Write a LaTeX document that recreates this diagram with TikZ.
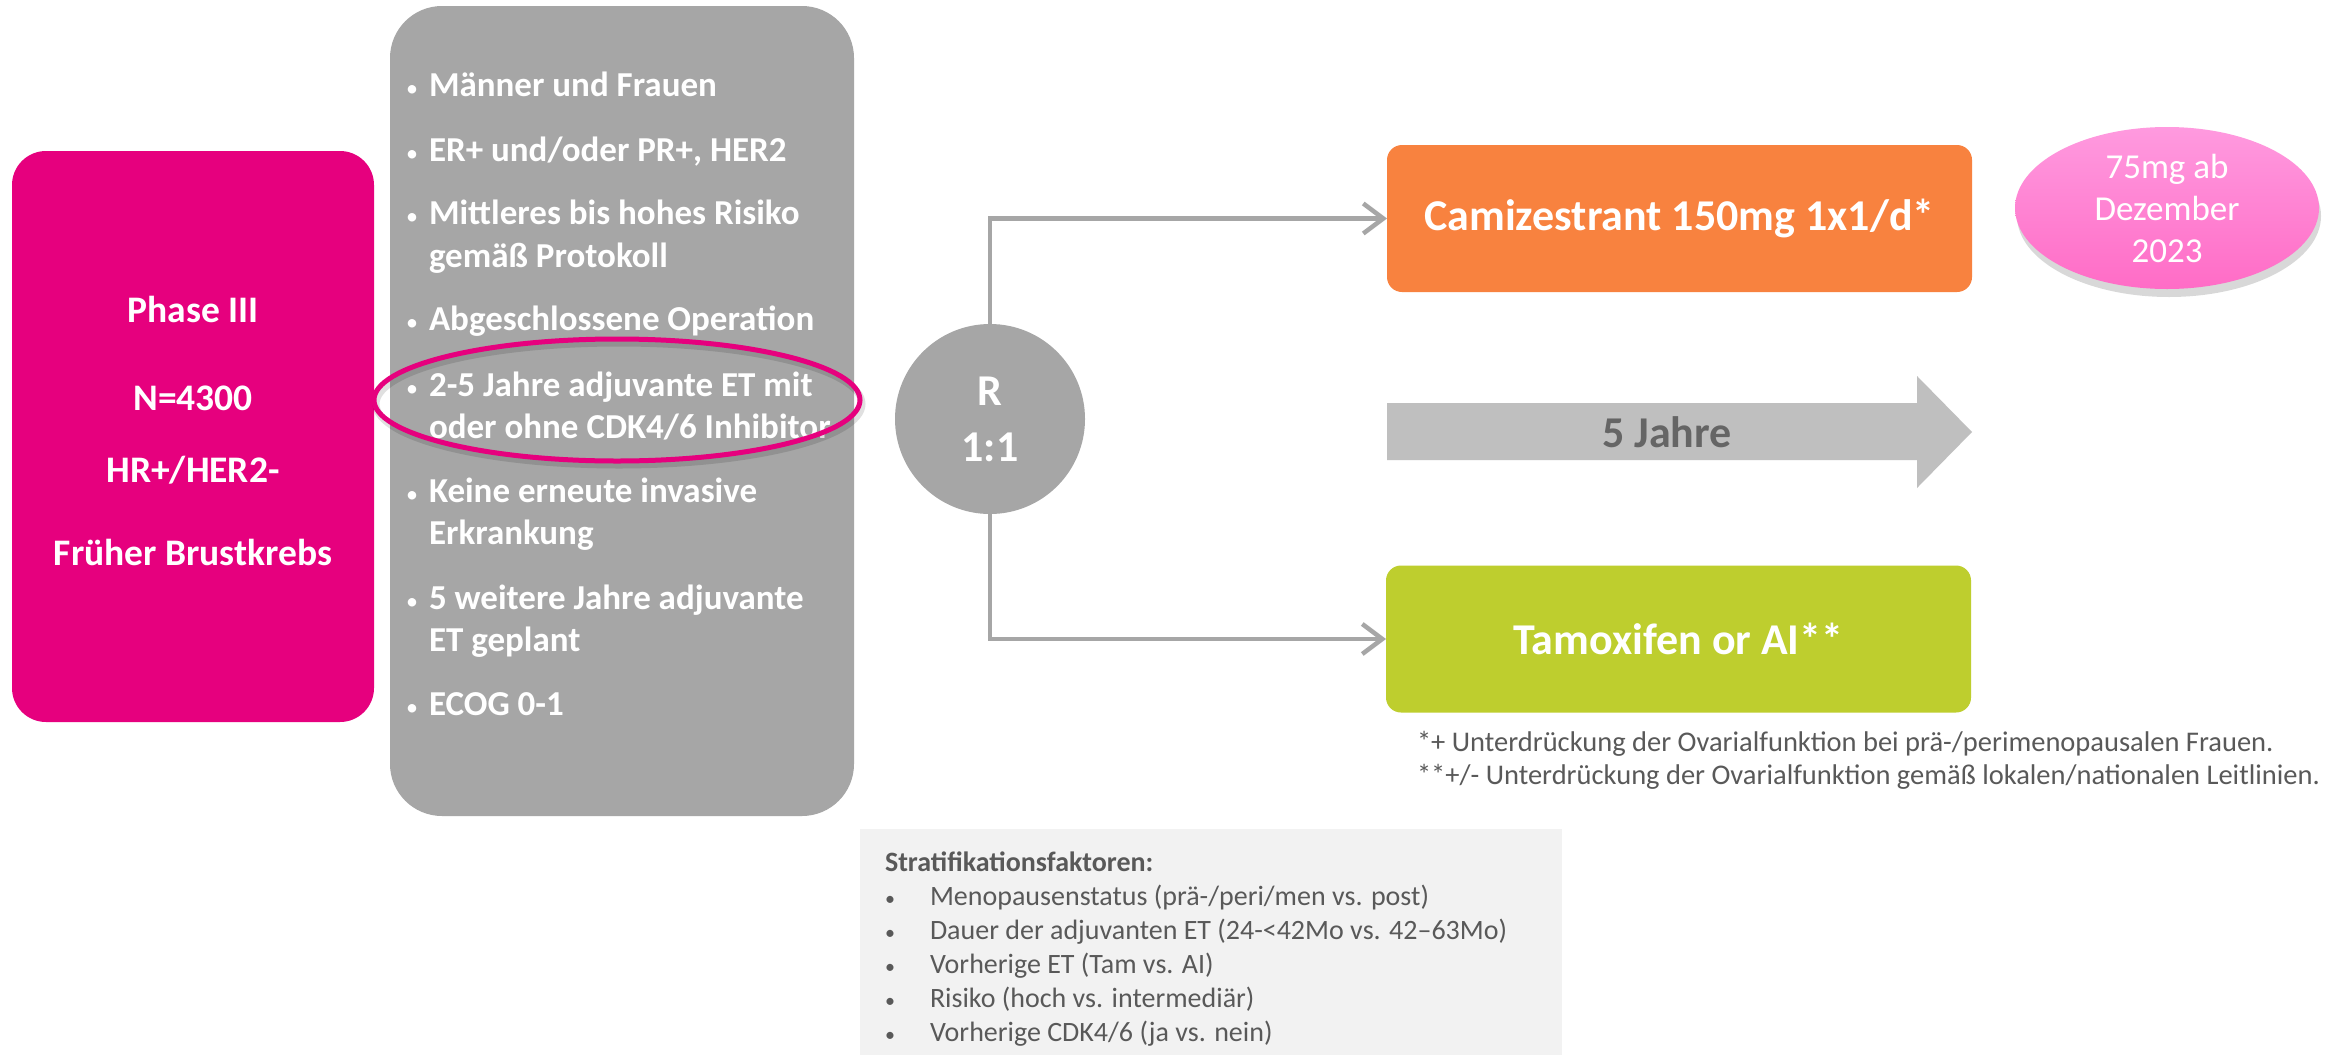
\documentclass[tikz,border=0pt]{standalone}
\usepackage{fontspec}
\setmainfont{Carlito}
\usetikzlibrary{shapes.geometric,arrows.meta,shadows}

\definecolor{phasepink}{HTML}{E6007E}
\definecolor{critgray}{HTML}{A6A6A6}
\definecolor{camiorange}{HTML}{F8823F}
\definecolor{tamgreen}{HTML}{BECE2E}
\definecolor{durgray}{HTML}{BFBFBF}
\definecolor{durtext}{HTML}{656565}
\definecolor{notetop}{HTML}{FF9ADF}
\definecolor{notebottom}{HTML}{FF6CC6}
\definecolor{foottext}{HTML}{595959}
\definecolor{stratbg}{HTML}{F2F2F2}

\begin{document}
\begin{tikzpicture}[x=1pt,y=-1pt,
  every node/.style={inner sep=0pt,outer sep=0pt},
  critline/.style={anchor=base west,text=white,font=\fontsize{35}{42}\selectfont\bfseries},
  critdot/.style={anchor=base,text=white,font=\fontsize{24}{28}\selectfont},
  phaseline/.style={anchor=base,text=white,font=\fontsize{37.5}{45}\selectfont\bfseries},
  armbox/.style={rounded corners=15pt,minimum width=585pt,minimum height=147pt,
    text=white,font=\fontsize{44}{52}\selectfont\bfseries},
  connector/.style={draw=critgray,line width=4.5pt,
    -{Straight Barb[length=20pt,width=30pt,line width=4.5pt]}},
  footline/.style={anchor=base west,text=foottext,font=\fontsize{28.5}{34}\selectfont},
  stratline/.style={anchor=base west,text=foottext,font=\fontsize{28}{34}\selectfont},
  stratdot/.style={anchor=base,text=foottext,font=\fontsize{20}{24}\selectfont},
]
\useasboundingbox[fill=white] (0,0) rectangle (2336,1055);

% study population
\node[fill=phasepink,rounded corners=34pt,minimum width=362pt,minimum height=571pt] (phase) at (193,436.5) {};
\node[phaseline] (phase1) at (193,322) {Phase III};
\node[phaseline] (phase2) at (193,410) {N=4300};
\node[phaseline] (phase3) at (193,482) {HR+/HER2-};
\node[phaseline] (phase4) at (193,565) {Früher Brustkrebs};

% inclusion criteria
\node[fill=critgray,rounded corners=52pt,minimum width=464pt,minimum height=810pt] (crit) at (622,411) {};
\foreach \y/\n in {96/1,161/2,224/3,330/4,396/5,502/6,609/7,715/8}
  \node[critdot] (dot\n) at (412,\y) {•};
\node[critline] (c1)  at (429,96)  {Männer und Frauen};
\node[critline] (c2)  at (429,161) {ER+ und/oder PR+, HER2};
\node[critline] (c3)  at (429,224) {Mittleres bis hohes Risiko};
\node[critline] (c3b) at (429,267) {gemäß Protokoll};
\node[critline] (c4)  at (429,330) {Abgeschlossene Operation};
\node[critline] (c5)  at (429,396) {2-5 Jahre adjuvante ET mit};
\begin{scope}
  \clip (400,405) rectangle (833,460);
  \node[critline] (c5b) at (429,438) {oder ohne CDK4/6 Inhibitor};
\end{scope}
\node[critline] (c6)  at (429,502) {Keine erneute invasive};
\node[critline] (c6b) at (429,544) {Erkrankung};
\node[critline] (c7)  at (429,609) {5 weitere Jahre adjuvante};
\node[critline] (c7b) at (429,651) {ET geplant};
\node[critline] (c8)  at (429,715) {ECOG 0-1};

% highlight ring
\draw[black,opacity=0.12,line width=7pt] (619,404) ellipse [x radius=243pt,y radius=61pt];
\draw[phasepink,line width=5pt] (617,400) ellipse [x radius=243pt,y radius=61pt];

% randomisation
\node[circle,fill=critgray,minimum size=190pt,align=center,text=white,
  font=\fontsize{44}{56}\selectfont\bfseries] (rand) at (990,419) {R\\1:1};

% treatment arms
\node[armbox,fill=camiorange] (camiz) at (1679.5,218.5) {Camizestrant 150mg 1x1/d*};
\node[armbox,fill=tamgreen] (tamox) at (1678.5,639) {Tamoxifen or AI**};
\draw[connector] (rand.north) |- (camiz.west);
\draw[connector] (rand.south) |- (tamox.west);

% duration arrow
\fill[durgray] (1387,403) -- (1917,403) -- (1917,376) -- (1972,432)
  -- (1917,488) -- (1917,460) -- (1387,460) -- cycle;
\node[text=durtext,font=\fontsize{44}{52}\selectfont\bfseries] (dur) at (1667,432) {5 Jahre};

% dose note
\node[ellipse,minimum width=304pt,minimum height=162pt,top color=notetop,bottom color=notebottom,
  drop shadow={shadow xshift=2pt,shadow yshift=-8pt,opacity=0.3},
  align=center,text=white,font=\fontsize{35}{42}\selectfont] (note) at (2167,208)
  {75mg ab\\Dezember\\2023};

% footnotes
\node[footline] (foot1) at (1417,751) {*+ Unterdrückung der Ovarialfunktion bei prä-/perimenopausalen Frauen.};
\node[footline] (foot2) at (1417,784) {**+/- Unterdrückung der Ovarialfunktion gemäß lokalen/nationalen Leitlinien.};

% stratification factors
\node[fill=stratbg,anchor=north west,minimum width=702pt,minimum height=226pt] (strat) at (860,829) {};
\node[stratline,font=\fontsize{28}{34}\selectfont\bfseries] (s0) at (885,871) {Stratifikationsfaktoren:};
\foreach \y/\n in {905/1,939/2,973/3,1007/4,1041/5}
  \node[stratdot] (sdot\n) at (890,\y) {•};
\node[stratline] (s1) at (930,905)  {Menopausenstatus (prä-/peri/men vs. post)};
\node[stratline] (s2) at (930,939)  {Dauer der adjuvanten ET (24-<42Mo vs. 42–63Mo)};
\node[stratline] (s3) at (930,973)  {Vorherige ET (Tam vs. AI)};
\node[stratline] (s4) at (930,1007) {Risiko (hoch vs. intermediär)};
\node[stratline] (s5) at (930,1041) {Vorherige CDK4/6 (ja vs. nein)};
\end{tikzpicture}
\end{document}
